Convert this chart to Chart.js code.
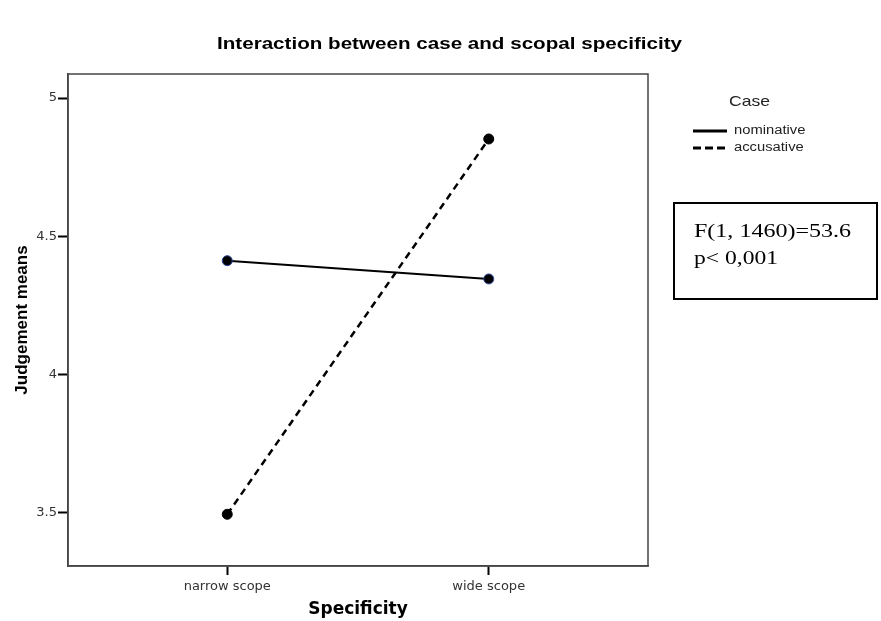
<!DOCTYPE html>
<html>
<head>
<meta charset="utf-8">
<script src="https://cdn.jsdelivr.net/npm/chart.js@4.4.0/dist/chart.umd.min.js"></script>
<style>
  body { margin: 0; background: #fff; }
  #wrap { width: 881px; height: 621px; position: relative; }
</style>
</head>
<body>
<div id="wrap"><canvas id="interaction"></canvas></div>
<script>
// Values
const categories = ['narrow scope', 'wide scope'];
const nominative = [4.412, 4.346];
const accusative = [3.495, 4.852];
const yTicks = [3.5, 4, 4.5, 5];
const seriesNames = ['nominative', 'accusative'];

const SANS = '"Liberation Sans", Arial, sans-serif';
const WIDE = '"DejaVu Sans", sans-serif';

// the original's text is a bit stretched sideways, so custom text is drawn to a width
function stretchText(ctx, text, x, y, width, align) {
    const w = ctx.measureText(text).width;
    ctx.save();
    ctx.translate(x, y);
    ctx.scale(width / w, 1);
    ctx.textAlign = align;
    ctx.fillText(text, 0, 0);
    ctx.restore();
}

// Title, frame, legend and the stats box are drawn on top of the chart
const extras = {
    id: 'extras',
    afterDraw(chart) {
        const ctx = chart.ctx;
        const a = chart.chartArea;
        ctx.save();

        // frame around plot
        ctx.strokeStyle = '#444';
        ctx.lineWidth = 1.5;
        ctx.strokeRect(a.left, a.top, a.right - a.left, a.bottom - a.top);

        // title
        ctx.fillStyle = '#000';
        ctx.font = 'bold 17px ' + SANS;
        ctx.textBaseline = 'middle';
        stretchText(ctx, 'Interaction between case and scopal specificity', 449.5, 44, 465, 'center');

        // legend
        ctx.font = '15px ' + SANS;
        ctx.fillStyle = '#222';
        stretchText(ctx, 'Case', 729, 102, 41, 'left');
        ctx.font = '12px ' + SANS;
        chart.data.datasets.forEach((ds, i) => {
            const y = 131 + i * 17;
            ctx.beginPath();
            ctx.strokeStyle = '#000';
            ctx.lineWidth = 3;
            ctx.setLineDash(i === 1 ? [8, 4] : []);
            ctx.moveTo(693, y);
            ctx.lineTo(727, y);
            ctx.stroke();
            ctx.setLineDash([]);
            ctx.fillStyle = '#222';
            const w = ctx.measureText(ds.label).width * 1.23;
            stretchText(ctx, ds.label, 734, y, w, 'left');
        });

        // stats box
        ctx.strokeStyle = '#000';
        ctx.lineWidth = 2;
        ctx.strokeRect(674, 203, 203, 96);
        ctx.fillStyle = '#000';
        ctx.font = '19px "Liberation Serif", "Times New Roman", serif';
        ctx.textBaseline = 'alphabetic';
        stretchText(ctx, 'F(1, 1460)=53.6', 694, 237, 157, 'left');
        stretchText(ctx, 'p< 0,001', 694, 264, 84, 'left');

        ctx.restore();
    }
};

const ctx = document.getElementById('interaction').getContext('2d');
const interactionChart = new Chart(ctx, {
    type: 'scatter',
    data: {
        datasets: [{
            label: seriesNames[0],
            data: categories.map((c, i) => ({ x: i, y: nominative[i] })),
            showLine: true,
            borderColor: '#000',
            borderWidth: 2,
            pointRadius: 5,
            pointBackgroundColor: '#000',
            pointBorderColor: '#2c4a9a',
            pointBorderWidth: 1
        }, {
            label: seriesNames[1],
            data: categories.map((c, i) => ({ x: i, y: accusative[i] })),
            showLine: true,
            borderColor: '#000',
            borderWidth: 2.5,
            borderDash: [7, 5],
            pointRadius: 5,
            pointBackgroundColor: '#000',
            pointBorderColor: '#000',
            pointBorderWidth: 1
        }]
    },
    options: {
        responsive: true,
        maintainAspectRatio: false,
        animation: false,
        layout: { padding: { left: 0, top: 74, right: 233, bottom: 0 } },
        plugins: {
            legend: { display: false },
            tooltip: { enabled: false }
        },
        scales: {
            x: {
                type: 'linear',
                min: -0.609,
                max: 1.609,
                afterBuildTicks: axis => { axis.ticks = categories.map((c, i) => ({ value: i })); },
                afterFit: axis => { axis.height = 55; },
                ticks: {
                    callback: v => categories[v],
                    color: '#333',
                    font: { family: WIDE, size: 13 },
                    padding: 4,
                    maxRotation: 0
                },
                grid: { drawOnChartArea: false, tickLength: 9, tickColor: '#000', tickWidth: 2 },
                border: { color: '#444', width: 1.5 },
                title: {
                    display: true,
                    text: 'Specificity',
                    color: '#000',
                    font: { family: WIDE, size: 17, weight: 'bold' },
                    padding: { top: 0, bottom: 1 }
                }
            },
            y: {
                min: 3.308,
                max: 5.087,
                afterBuildTicks: axis => { axis.ticks = yTicks.map(v => ({ value: v })); },
                afterFit: axis => { axis.width = 68; },
                ticks: {
                    callback: v => String(v),
                    color: '#333',
                    font: { family: WIDE, size: 13 },
                    padding: 1
                },
                grid: { drawOnChartArea: false, tickLength: 10, tickColor: '#000', tickWidth: 2 },
                border: { color: '#444', width: 1.5 },
                title: {
                    display: true,
                    text: 'Judgement means',
                    color: '#000',
                    font: { family: SANS, size: 17, weight: 'bold' },
                    padding: { top: 12, bottom: 0 }
                }
            }
        }
    },
    plugins: [extras]
});
</script>
</body>
</html>
